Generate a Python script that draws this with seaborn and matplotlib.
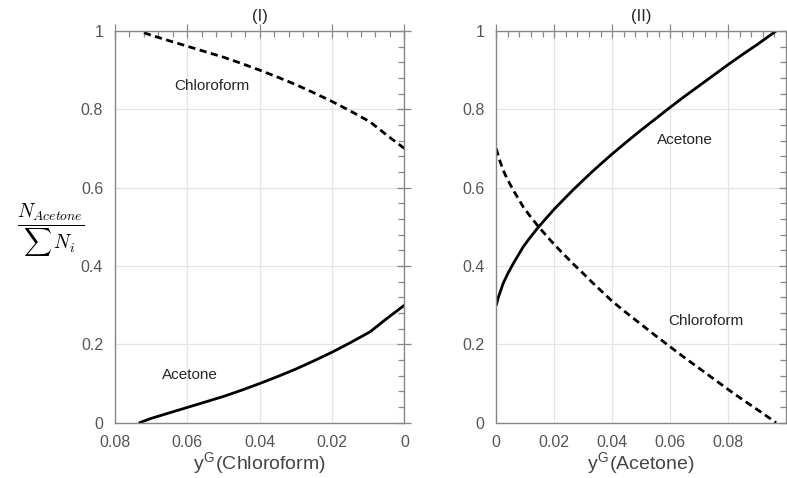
import numpy as np
import pandas as pd
import seaborn as sns
import matplotlib.pyplot as plt
from matplotlib.ticker import MultipleLocator

# panel (I): gas phase chloroform fraction
x_chl = [0.0732, 0.07, 0.065, 0.06, 0.055, 0.05, 0.045, 0.04, 0.035,
         0.03, 0.025, 0.02, 0.015, 0.0095, 0.005, 0.0]
acetone_I = [0.0, 0.011, 0.025, 0.039, 0.053, 0.067, 0.083, 0.100, 0.118,
             0.137, 0.158, 0.180, 0.204, 0.232, 0.265, 0.300]
chloroform_I = [1.0, 0.989, 0.975, 0.961, 0.947, 0.933, 0.917, 0.900, 0.882,
                0.863, 0.842, 0.820, 0.796, 0.768, 0.735, 0.700]

# panel (II): gas phase acetone fraction
x_ace = [0.0, 0.0008, 0.0024, 0.004, 0.006, 0.0093, 0.0115, 0.0145, 0.017,
         0.02, 0.023, 0.0266, 0.03, 0.033, 0.036, 0.04, 0.045, 0.05, 0.055,
         0.06, 0.065, 0.07, 0.075, 0.08, 0.085, 0.09, 0.0966]
acetone_II = [0.300, 0.322, 0.356, 0.381, 0.408, 0.449, 0.471, 0.499, 0.520,
              0.545, 0.568, 0.595, 0.619, 0.640, 0.660, 0.686, 0.717, 0.747, 0.776,
              0.805, 0.833, 0.860, 0.887, 0.914, 0.940, 0.965, 1.0]
chloroform_II = [0.700, 0.678, 0.644, 0.619, 0.592, 0.551, 0.529, 0.501, 0.480,
                 0.455, 0.432, 0.405, 0.381, 0.359, 0.338, 0.310, 0.280, 0.251, 0.222,
                 0.194, 0.166, 0.139, 0.112, 0.085, 0.059, 0.034, 0.0]

sns.set_style("whitegrid")
plt.rcParams['font.family'] = ['Liberation Sans', 'DejaVu Sans']
plt.rcParams['mathtext.fontset'] = 'cm'

fig = plt.figure(figsize=(7.87, 4.78), dpi=100)
ax1 = fig.add_axes([0.1461, 0.1157, 0.3678, 0.8195])
ax2 = fig.add_axes([0.6306, 0.1157, 0.3681, 0.8195])

dash = (0, (2.6, 1.6))
sns.lineplot(x=x_chl, y=acetone_I, ax=ax1, color='black', lw=2)
sns.lineplot(x=x_chl, y=chloroform_I, ax=ax1, color='black', lw=2, linestyle=dash)
sns.lineplot(x=x_ace, y=acetone_II, ax=ax2, color='black', lw=2)
sns.lineplot(x=x_ace, y=chloroform_II, ax=ax2, color='black', lw=2, linestyle=dash)

ax1.set_xlim(0.08, 0)
ax2.set_xlim(0, 0.1)
for ax in (ax1, ax2):
    ax.set_ylim(0, 1)
    ax.xaxis.set_minor_locator(MultipleLocator(0.004))
    ax.yaxis.set_minor_locator(MultipleLocator(0.04))
    ax.set_yticks([0, 0.2, 0.4, 0.6, 0.8, 1])
    ax.set_yticklabels(['0', '0.2', '0.4', '0.6', '0.8', '1'])
    ax.grid(True, which='major', color='#e4e4e4', lw=0.9)
    ax.grid(False, which='minor')
    ax.tick_params(which='major', direction='inout', length=10, width=0.9,
                   color='#888888', top=True, right=True,
                   labelsize=11.5, labelcolor='#555555')
    ax.tick_params(which='minor', direction='in', length=4, width=0.9,
                   color='#888888', top=True, right=True)
    for s in ax.spines.values():
        s.set_color('#888888')
        s.set_linewidth(1.0)

ax1.set_xticks([0.08, 0.06, 0.04, 0.02, 0])
ax1.set_xticklabels(['0.08', '0.06', '0.04', '0.02', '0'])
ax2.set_xticks([0, 0.02, 0.04, 0.06, 0.08])
ax2.set_xticklabels(['0', '0.02', '0.04', '0.06', '0.08'])

ax1.set_xlabel(r'y$^{\mathregular{G}}$(Chloroform)', fontsize=14, color='#444444', labelpad=1)
ax2.set_xlabel(r'y$^{\mathregular{G}}$(Acetone)', fontsize=14, color='#444444', labelpad=1)
ax1.set_title('(I)', fontsize=12, pad=7)
ax2.set_title('(II)', fontsize=12, pad=7)

ax1.set_ylabel(r'$\frac{N_{Acetone}}{\sum\, N_i}$', fontsize=20, rotation=0,
               ha='center', va='center', color='black')
ax1.yaxis.set_label_coords(-0.222, 0.49)

ax1.text(0.0533, 0.86, 'Chloroform', fontsize=11, ha='center', va='center')
ax1.text(0.0593, 0.121, 'Acetone', fontsize=11, ha='center', va='center')
ax2.text(0.065, 0.721, 'Acetone', fontsize=11, ha='center', va='center')
ax2.text(0.0724, 0.26, 'Chloroform', fontsize=11, ha='center', va='center')

fig.savefig('out.png', dpi=100)
